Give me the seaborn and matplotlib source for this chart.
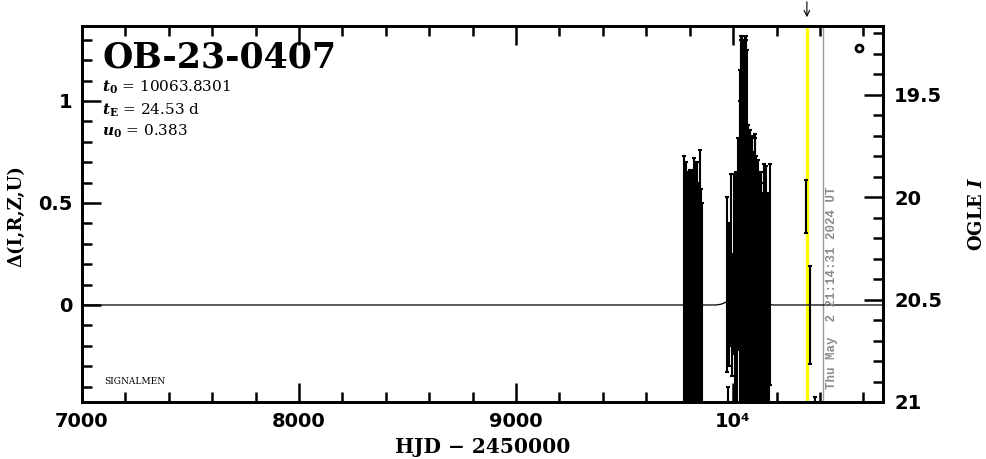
import matplotlib
matplotlib.use('Agg')
import matplotlib.pyplot as plt
import seaborn as sns
from matplotlib.ticker import MultipleLocator, FixedLocator, FixedFormatter, FuncFormatter

sns.set_style('ticks')
plt.rcParams['font.family'] = ['DejaVu Sans']
plt.rcParams['font.weight'] = 'bold'
plt.rcParams['mathtext.fontset'] = 'dejavuserif'
plt.rcParams.update({'text.color': 'black', 'axes.labelcolor': 'black',
                     'xtick.color': 'black', 'ytick.color': 'black',
                     'axes.edgecolor': 'black'})

# Event parameters
event_name = 'OB-23-0407'
t0 = 10063.8301
tE = 24.53
u0 = 0.383

# OGLE photometry: HJD-2450000, delta mag, error
ogle_hjd = [9776, 9779, 9783, 9787, 9790, 9794, 9797, 9800, 9804, 9807,
            9810, 9814, 9817, 9820, 9824, 9827, 9830, 9834, 9838, 9841,
            9845, 9848, 9852, 9855,
            9972, 9976, 9982, 9990, 9996, 10002, 10008, 10014, 10019, 10024,
            10030, 10033, 10035, 10038, 10040, 10043, 10045, 10048, 10050, 10053,
            10055, 10058, 10060, 10063, 10065, 10068, 10070, 10073, 10075, 10078,
            10080, 10083, 10085, 10088, 10090, 10093, 10096, 10099, 10102, 10105,
            10108, 10110, 10113, 10115, 10118, 10121, 10124, 10127, 10130, 10133,
            10136, 10139, 10142, 10145, 10148, 10151, 10155, 10160, 10163, 10166,
            10172,
            10336, 10355, 10378]
ogle_delta = [0.10, -0.05, 0.15, -0.10, 0.05, -0.15, 0.12, -0.02, 0.08, -0.20,
              0.20, 0.00, -0.12, 0.10, -0.05, 0.18, -0.25, 0.05, -0.08, 0.12,
              -0.15, 0.10, 0.02, -0.10,
              0.10, -0.62, 0.05, 0.22, -0.05, 0.20, -0.10, 0.15, -0.05, 0.30,
              0.40, 0.30, 0.65, 0.40, 0.55, 0.38, 0.70, 0.35, 0.30, 0.65,
              0.60, 0.40, 0.45, 0.30, 0.10, 0.20, 0.25, 0.15, -0.10, 0.20,
              0.30, 0.10, 0.00, 0.15, -0.20, 0.05, 0.10, 0.20, 0.25, 0.05,
              -0.15, 0.10, 0.05, 0.12, 0.20, 0.00, -0.10, 0.05, 0.10, -0.10,
              -0.30, 0.00, 0.20, 0.05, -0.05, 0.10, 0.10, -0.35, 0.00, -0.20,
              0.15,
              0.485, -0.05, -0.70]
ogle_err = [0.63, 0.70, 0.55, 0.62, 0.60, 0.55, 0.50, 0.68, 0.58, 0.65,
            0.45, 0.60, 0.72, 0.62, 0.55, 0.52, 0.60, 0.65, 0.58, 0.48,
            0.70, 0.66, 0.55, 0.60,
            0.43, 0.22, 0.35, 0.42, 0.30, 0.44, 0.40, 0.50, 0.55, 0.52,
            0.60, 0.85, 0.65, 0.92, 0.77, 0.92, 0.60, 0.95, 0.95, 0.67,
            0.70, 0.92, 0.85, 0.95, 0.72, 0.68, 0.60, 0.70, 0.70, 0.66,
            0.56, 0.70, 0.65, 0.68, 0.55, 0.70, 0.62, 0.62, 0.59, 0.68,
            0.60, 0.60, 0.66, 0.52, 0.45, 0.60, 0.65, 0.55, 0.55, 0.50,
            0.50, 0.55, 0.49, 0.55, 0.60, 0.58, 0.45, 0.45, 0.55, 0.40,
            0.54,
            0.13, 0.24, 0.25]

# Model light curve
model_hjd = [7000, 9920, 9945, 9960, 9975, 9990, 10010, 10030, 10050, 10064,
             10078, 10098, 10118, 10138, 10153, 10165, 10180, 10691]
model_delta = [0.0, 0.0, 0.004, 0.01, 0.02, 0.035, 0.07, 0.12, 0.17, 0.19,
               0.17, 0.11, 0.06, 0.03, 0.015, 0.006, 0.0, 0.0]

now_hjd = 10340
last_hjd = 10415
date_str = 'Thu May  2 21:14:31 2024 UT'

x_ticks = [7000, 8000, 9000, 10000]
x_ticklabels = ['7000', '8000', '9000', '10⁴']
xlim = (7000, 10691)
ylim = (-0.4755, 1.3676)
mag_lim = (21, 19.165)

fig = plt.figure(figsize=(9.86, 4.59), dpi=100)
ax = fig.add_axes([0.0832, 0.1242, 0.8124, 0.8192])

ax.axvline(now_hjd, color='#ffff00', lw=2.4, zorder=1)
ax.axvline(last_hjd, color='#999999', lw=1, zorder=1)
sns.lineplot(x=model_hjd, y=model_delta, ax=ax, color='black', lw=0.9, zorder=2)
ax.errorbar(ogle_hjd, ogle_delta, yerr=ogle_err, fmt='none', ecolor='black',
            elinewidth=1.5, capsize=1.6, capthick=1.5, zorder=3)
ax.plot([10580], [1.26], 'o', mfc='white', mec='black', ms=5, mew=2, zorder=4)

ax.set_xlim(xlim)
ax.set_ylim(ylim)
ax.xaxis.set_major_locator(FixedLocator(x_ticks))
ax.xaxis.set_major_formatter(FixedFormatter(x_ticklabels))
ax.xaxis.set_minor_locator(MultipleLocator(200))
ax.yaxis.set_major_locator(MultipleLocator(0.5))
ax.yaxis.set_minor_locator(MultipleLocator(0.1))
ax.yaxis.set_major_formatter(FuncFormatter(lambda v, p: '%g' % v))
ax.tick_params(which='both', direction='in', top=True, right=False, width=1.8)
ax.tick_params(which='major', length=14, labelsize=14, pad=7)
ax.tick_params(which='minor', length=7.5)
ax.set_xlabel('HJD − 2450000', fontsize=14.5, family='DejaVu Serif', fontweight='bold')
ax.xaxis.set_label_coords(0.5, -0.092)

ax2 = ax.twinx()
ax2.set_position(ax.get_position())
ax2.set_ylim(mag_lim)
ax2.yaxis.set_major_locator(MultipleLocator(0.5))
ax2.yaxis.set_minor_locator(MultipleLocator(0.1))
ax2.yaxis.set_major_formatter(FuncFormatter(lambda v, p: '%g' % v))
ax2.tick_params(which='both', direction='in', width=1.8)
ax2.tick_params(which='major', length=14, labelsize=14, pad=8)
ax2.tick_params(which='minor', length=7.5)

for a in (ax, ax2):
    for s in a.spines.values():
        s.set_linewidth(2)
        s.set_color('black')

# arrow marking current time
ax.annotate('', xy=(now_hjd, 1.397), xytext=(now_hjd, 1.50),
            arrowprops=dict(arrowstyle='->,head_length=0.4,head_width=0.2', color='black', lw=0.8),
            annotation_clip=False)

ax.text(10456, -0.41, date_str, rotation=90, ha='center', va='bottom',
        color='#8c8c8c', family='Liberation Mono', fontsize=9, fontweight='bold')

fig.text(103 / 986, 1 - 68 / 459, event_name, fontsize=25, family='DejaVu Serif', va='baseline')
fig.text(102 / 986, 1 - 92 / 459, r'$t_0$ = %s' % t0, fontsize=11,
         family='DejaVu Serif', fontweight='normal', va='baseline')
fig.text(102 / 986, 1 - 115 / 459, r'$t_{\rm E}$ = %s d' % tE, fontsize=11,
         family='DejaVu Serif', fontweight='normal', va='baseline')
fig.text(102 / 986, 1 - 136 / 459, r'$u_0$ = %s' % u0, fontsize=11,
         family='DejaVu Serif', fontweight='normal', va='baseline')
fig.text(104 / 986, 1 - 384 / 459, 'SIGNALMEN', fontsize=6.5, family='DejaVu Serif',
         fontweight='normal', va='baseline')

fig.text(16 / 986, 1 - 216 / 459, 'Δ(I,R,Z,U)', rotation=90, ha='center', va='center',
         family='DejaVu Serif', fontsize=13)
fig.text(977 / 986, 1 - 214 / 459, 'OGLE $I$', rotation=90, ha='center', va='center',
         family='DejaVu Serif', fontsize=13)

fig.savefig('out.png', dpi=100)
